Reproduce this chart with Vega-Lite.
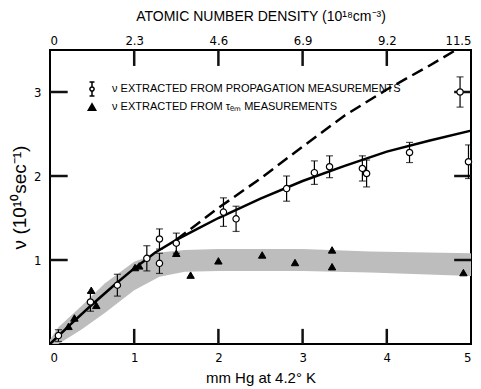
{
  "$schema": "https://vega.github.io/schema/vega-lite/v6.json",
  "width": 421,
  "height": 294,
  "autosize": {"type": "none"},
  "padding": {"left": 50, "top": 50, "right": 10, "bottom": 45},
  "background": "white",
  "config": {
    "view": {"stroke": "black", "strokeWidth": 2},
    "axis": {
      "grid": false,
      "domain": false,
      "ticks": false,
      "labelColor": "black",
      "titleColor": "black",
      "labelFont": "Liberation Sans Narrow, DejaVu Sans Condensed, sans-serif",
      "labelFontSize": 13,
      "titleFont": "Liberation Sans, sans-serif",
      "titleFontWeight": "normal",
      "titleFontSize": 13
    }
  },
  "datasets": {
    "xt": [{"p": 1}, {"p": 2}, {"p": 3}, {"p": 4}],
    "yt": [{"nu": 1}, {"nu": 2}, {"nu": 3}],
    "band": [
      {"p": 0, "lo": 0, "hi": 0.05},
      {"p": 0.1, "lo": 0, "hi": 0.2},
      {"p": 0.37, "lo": 0.17, "hi": 0.45},
      {"p": 0.65, "lo": 0.37, "hi": 0.72},
      {"p": 1.0, "lo": 0.64, "hi": 0.98},
      {"p": 1.3, "lo": 0.8, "hi": 1.09},
      {"p": 1.6, "lo": 0.86, "hi": 1.12},
      {"p": 2.0, "lo": 0.87, "hi": 1.13},
      {"p": 3.0, "lo": 0.87, "hi": 1.13},
      {"p": 3.8, "lo": 0.85, "hi": 1.1},
      {"p": 5.0, "lo": 0.81, "hi": 1.08}
    ],
    "fit": [
      {"p": 0, "nu": 0},
      {"p": 0.25, "nu": 0.24},
      {"p": 0.5, "nu": 0.47},
      {"p": 0.75, "nu": 0.69},
      {"p": 1.0, "nu": 0.9},
      {"p": 1.25, "nu": 1.09},
      {"p": 1.5, "nu": 1.24},
      {"p": 1.75, "nu": 1.37},
      {"p": 2.0, "nu": 1.5},
      {"p": 2.5, "nu": 1.73},
      {"p": 3.0, "nu": 1.94},
      {"p": 3.5, "nu": 2.12},
      {"p": 4.0, "nu": 2.29},
      {"p": 4.5, "nu": 2.42},
      {"p": 5.0, "nu": 2.54}
    ],
    "ext": [
      {"p": 1.5, "nu": 1.24},
      {"p": 2.0, "nu": 1.62},
      {"p": 2.5, "nu": 1.97},
      {"p": 3.0, "nu": 2.35},
      {"p": 3.5, "nu": 2.72},
      {"p": 4.0, "nu": 3.03},
      {"p": 4.5, "nu": 3.31},
      {"p": 4.82, "nu": 3.5}
    ],
    "prop": [
      {"p": 0.1, "nu": 0.1, "lo": 0.03, "hi": 0.17},
      {"p": 0.48, "nu": 0.5, "lo": 0.39, "hi": 0.61},
      {"p": 0.8, "nu": 0.7, "lo": 0.57, "hi": 0.83},
      {"p": 1.15, "nu": 1.02, "lo": 0.87, "hi": 1.17},
      {"p": 1.3, "nu": 1.25, "lo": 1.13, "hi": 1.37},
      {"p": 1.3, "nu": 0.96, "lo": 0.84, "hi": 1.08},
      {"p": 1.5, "nu": 1.2, "lo": 1.08, "hi": 1.32},
      {"p": 2.06, "nu": 1.57, "lo": 1.4, "hi": 1.74},
      {"p": 2.21, "nu": 1.49, "lo": 1.34, "hi": 1.64},
      {"p": 2.81, "nu": 1.85, "lo": 1.7, "hi": 2.0},
      {"p": 3.14, "nu": 2.04, "lo": 1.9, "hi": 2.18},
      {"p": 3.32, "nu": 2.11, "lo": 1.98, "hi": 2.24},
      {"p": 3.71, "nu": 2.09, "lo": 1.94, "hi": 2.24},
      {"p": 3.76, "nu": 2.03, "lo": 1.87, "hi": 2.19},
      {"p": 4.27, "nu": 2.28, "lo": 2.16, "hi": 2.4},
      {"p": 4.87, "nu": 3.0, "lo": 2.82, "hi": 3.18},
      {"p": 4.97, "nu": 2.17, "lo": 1.97, "hi": 2.37}
    ],
    "tau": [
      {"p": 0.22, "nu": 0.21, "series": "ν EXTRACTED FROM τₑₘ MEASUREMENTS"},
      {"p": 0.29, "nu": 0.31, "series": "ν EXTRACTED FROM τₑₘ MEASUREMENTS"},
      {"p": 0.49, "nu": 0.64, "series": "ν EXTRACTED FROM τₑₘ MEASUREMENTS"},
      {"p": 0.55, "nu": 0.46, "series": "ν EXTRACTED FROM τₑₘ MEASUREMENTS"},
      {"p": 1.01, "nu": 0.91, "series": "ν EXTRACTED FROM τₑₘ MEASUREMENTS"},
      {"p": 1.06, "nu": 0.93, "series": "ν EXTRACTED FROM τₑₘ MEASUREMENTS"},
      {"p": 1.5, "nu": 1.08, "series": "ν EXTRACTED FROM τₑₘ MEASUREMENTS"},
      {"p": 1.67, "nu": 0.82, "series": "ν EXTRACTED FROM τₑₘ MEASUREMENTS"},
      {"p": 2.0, "nu": 0.99, "series": "ν EXTRACTED FROM τₑₘ MEASUREMENTS"},
      {"p": 2.52, "nu": 1.06, "series": "ν EXTRACTED FROM τₑₘ MEASUREMENTS"},
      {"p": 2.91, "nu": 0.97, "series": "ν EXTRACTED FROM τₑₘ MEASUREMENTS"},
      {"p": 3.35, "nu": 1.12, "series": "ν EXTRACTED FROM τₑₘ MEASUREMENTS"},
      {"p": 3.35, "nu": 0.92, "series": "ν EXTRACTED FROM τₑₘ MEASUREMENTS"},
      {"p": 4.91, "nu": 0.85, "series": "ν EXTRACTED FROM τₑₘ MEASUREMENTS"}
    ]
  },
  "layer": [
    {
      "data": {"name": "band"},
      "mark": {"type": "area", "color": "#bdbdbd"},
      "encoding": {
        "x": {
          "field": "p", "type": "quantitative",
          "scale": {"domain": [0, 5], "nice": false, "zero": false},
          "axis": {
            "orient": "bottom", "values": [0, 1, 2, 3, 4, 5], "format": "d",
            "labelPadding": 7,
            "title": "mm Hg at 4.2° K", "titleFontSize": 15, "titlePadding": 6
          }
        },
        "y": {
          "field": "lo", "type": "quantitative",
          "scale": {"domain": [0, 3.5], "nice": false},
          "axis": {
            "orient": "left", "values": [1, 2, 3], "format": "d",
            "labelPadding": 9,
            "title": "ν (10¹⁰sec⁻¹)", "titleFontSize": 19, "titlePadding": 4
          }
        },
        "y2": {"field": "hi"}
      }
    },
    {
      "data": {"name": "fit"},
      "mark": {"type": "line", "color": "black", "strokeWidth": 2.5},
      "encoding": {
        "x": {
          "field": "p", "type": "quantitative",
          "axis": {
            "orient": "top", "values": [0, 1, 2, 3, 4, 5],
            "labelExpr": "datum.value == 0 ? '0' : format(datum.value * 2.3, '.1f')",
            "labelPadding": 3,
            "title": "ATOMIC NUMBER DENSITY (10¹⁸cm⁻³)", "titleFontSize": 14, "titlePadding": 11
          }
        },
        "y": {"field": "nu", "type": "quantitative", "axis": null}
      }
    },
    {
      "data": {"name": "xt"},
      "mark": {"type": "rule", "color": "#111111", "strokeWidth": 2.5},
      "encoding": {
        "x": {"field": "p", "type": "quantitative", "axis": null},
        "y": {"datum": 0, "type": "quantitative", "axis": null},
        "y2": {"datum": 0.18}
      }
    },
    {
      "data": {"name": "xt"},
      "mark": {"type": "rule", "color": "#111111", "strokeWidth": 2.5},
      "encoding": {
        "x": {"field": "p", "type": "quantitative", "axis": null},
        "y": {"datum": 3.5, "type": "quantitative", "axis": null},
        "y2": {"datum": 3.31}
      }
    },
    {
      "data": {"name": "yt"},
      "mark": {"type": "rule", "color": "#111111", "strokeWidth": 2.5},
      "encoding": {
        "y": {"field": "nu", "type": "quantitative", "axis": null},
        "x": {"datum": 0, "type": "quantitative", "axis": null},
        "x2": {"datum": 0.21}
      }
    },
    {
      "data": {"name": "yt"},
      "mark": {"type": "rule", "color": "#111111", "strokeWidth": 2.5},
      "encoding": {
        "y": {"field": "nu", "type": "quantitative", "axis": null},
        "x": {"datum": 5, "type": "quantitative", "axis": null},
        "x2": {"datum": 4.8}
      }
    },
    {
      "data": {"name": "ext"},
      "mark": {"type": "line", "color": "black", "strokeWidth": 2.5, "strokeDash": [12, 6]},
      "encoding": {
        "x": {"field": "p", "type": "quantitative", "axis": null},
        "y": {"field": "nu", "type": "quantitative", "axis": null}
      }
    },
    {
      "data": {"name": "prop"},
      "mark": {"type": "errorbar", "color": "black", "thickness": 1.2, "ticks": {"size": 7, "thickness": 1.2, "color": "black"}},
      "encoding": {
        "x": {"field": "p", "type": "quantitative", "axis": null},
        "y": {"field": "lo", "type": "quantitative", "axis": null},
        "y2": {"field": "hi"}
      }
    },
    {
      "data": {"name": "prop"},
      "mark": {"type": "point", "shape": "circle", "filled": true, "fill": "white", "size": 40, "stroke": "black", "strokeWidth": 1.2, "opacity": 1},
      "encoding": {
        "x": {"field": "p", "type": "quantitative", "axis": null},
        "y": {"field": "nu", "type": "quantitative", "axis": null}
      }
    },
    {
      "data": {"name": "tau"},
      "mark": {"type": "point", "filled": true, "stroke": "black", "strokeWidth": 1, "opacity": 1},
      "encoding": {
        "x": {"field": "p", "type": "quantitative", "axis": null},
        "y": {"field": "nu", "type": "quantitative", "axis": null},
        "shape": {
          "field": "series", "type": "nominal",
          "scale": {"domain": ["ν EXTRACTED FROM PROPAGATION MEASUREMENTS", "ν EXTRACTED FROM τₑₘ MEASUREMENTS"], "range": ["M-0.3,0A0.3,0.3 0 1,1 0.3,0A0.3,0.3 0 1,1 -0.3,0ZM0,-0.3L0,-1M-0.35,-1L0.35,-1M0,0.3L0,1M-0.35,1L0.35,1", "triangle-up"]},
          "legend": {
            "title": null, "orient": "none", "legendX": 34, "legendY": 31, "padding": 0,
            "rowPadding": 0.5, "labelOffset": 12,
            "labelFont": "Liberation Sans, sans-serif", "labelFontSize": 11, "labelColor": "black", "labelLimit": 400,
            "encode": {"symbols": {"stroke": {"value": "black"}, "strokeWidth": {"value": 1.2}, "opacity": {"value": 1}}}
          }
        },
        "fill": {
          "field": "series", "type": "nominal",
          "scale": {"domain": ["ν EXTRACTED FROM PROPAGATION MEASUREMENTS", "ν EXTRACTED FROM τₑₘ MEASUREMENTS"], "range": ["white", "black"]},
          "legend": {
            "title": null, "orient": "none", "legendX": 34, "legendY": 31, "padding": 0,
            "rowPadding": 0.5, "labelOffset": 12,
            "labelFont": "Liberation Sans, sans-serif", "labelFontSize": 11, "labelColor": "black", "labelLimit": 400,
            "encode": {"symbols": {"stroke": {"value": "black"}, "strokeWidth": {"value": 1.2}, "opacity": {"value": 1}}}
          }
        },
        "size": {
          "field": "series", "type": "nominal",
          "scale": {"domain": ["ν EXTRACTED FROM PROPAGATION MEASUREMENTS", "ν EXTRACTED FROM τₑₘ MEASUREMENTS"], "range": [200, 55]},
          "legend": {
            "title": null, "orient": "none", "legendX": 34, "legendY": 31, "padding": 0,
            "rowPadding": 0.5, "labelOffset": 12,
            "labelFont": "Liberation Sans, sans-serif", "labelFontSize": 11, "labelColor": "black", "labelLimit": 400,
            "encode": {"symbols": {"stroke": {"value": "black"}, "strokeWidth": {"value": 1.2}, "opacity": {"value": 1}}}
          }
        }
      }
    }
  ],
  "resolve": {"axis": {"x": "independent", "y": "independent"}}
}
